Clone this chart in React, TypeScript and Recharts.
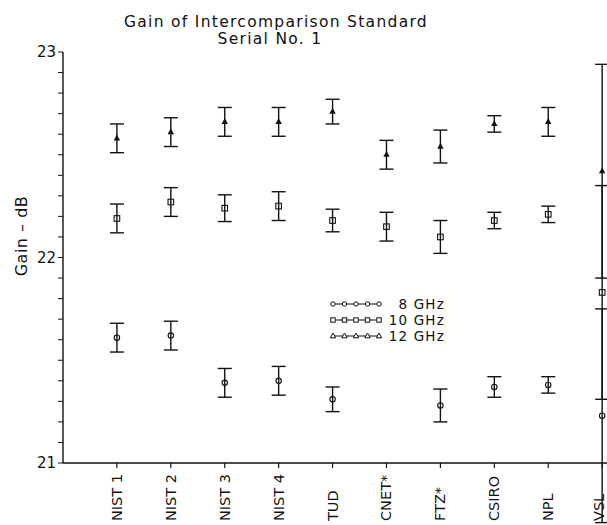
import React from 'react';
import { ScatterChart, Scatter, XAxis, YAxis, ErrorBar, Legend } from 'recharts';

const categories = ['NIST 1', 'NIST 2', 'NIST 3', 'NIST 4', 'TUD', 'CNET*', 'FTZ*', 'CSIRO', 'NPL', 'VSL'];

const gain8 = [21.61, 21.62, 21.39, 21.40, 21.31, null, 21.28, 21.37, 21.38, 21.23];
const err8 = [0.07, 0.07, 0.07, 0.07, 0.06, null, 0.08, 0.05, 0.04, 0.52];

const gain10 = [22.19, 22.27, 22.24, 22.25, 22.18, 22.15, 22.10, 22.18, 22.21, 21.83];
const err10 = [0.07, 0.07, 0.065, 0.07, 0.055, 0.07, 0.08, 0.04, 0.04, 0.52];

const gain12 = [22.58, 22.61, 22.66, 22.66, 22.71, 22.50, 22.54, 22.65, 22.66, 22.42];
const err12 = [0.07, 0.07, 0.07, 0.07, 0.06, 0.07, 0.08, 0.04, 0.07, 0.52];

const seriesNames = ['8 GHz', '10 GHz', '12 GHz'];
const xTicks = [1, 2, 3, 4, 5, 6, 7, 8, 9, 10];
const yTicks = [21, 21.1, 21.2, 21.3, 21.4, 21.5, 21.6, 21.7, 21.8, 21.9, 22, 22.1, 22.2, 22.3, 22.4, 22.5, 22.6, 22.7, 22.8, 22.9, 23];
const yLabelTicks = [21, 22, 23];
const titleLines = ['Gain of Intercomparison Standard', 'Serial No. 1'];
const yAxisTitle = 'Gain  \u2013  dB';

const FONT = "'DejaVu Sans', sans-serif";
const INK = '#111';

type Pt = { x: number; y: number; err: number; name: string };

function build(g: (number | null)[], e: (number | null)[]): Pt[] {
  const out: Pt[] = [];
  categories.forEach((c, i) => {
    const v = g[i];
    const er = e[i];
    if (v !== null && er !== null) out.push({ x: i + 1, y: v, err: er, name: c });
  });
  return out;
}

const data8 = build(gain8, err8);
const data10 = build(gain10, err10);
const data12 = build(gain12, err12);

const CircleMark = (p: any) => (
  <circle cx={p.cx} cy={p.cy} r={2.7} fill="none" stroke={INK} strokeWidth={1.1} />
);
const SquareMark = (p: any) => (
  <rect x={p.cx - 2.8} y={p.cy - 2.8} width={5.6} height={5.6} fill="none" stroke={INK} strokeWidth={1.1} />
);
const TriangleMark = (p: any) => (
  <path d={`M${p.cx},${p.cy - 3.8}L${p.cx + 3.2},${p.cy + 2.1}L${p.cx - 3.2},${p.cy + 2.1}Z`} fill={INK} />
);

const YTick = (props: any) => {
  const { x, y, payload } = props;
  if (!yLabelTicks.includes(payload.value)) return <g />;
  return (
    <text x={x} y={y} textAnchor="end" dominantBaseline="central" fontFamily={FONT} fontSize={15} fill={INK}>
      {payload.value}
    </text>
  );
};

const XTick = (props: any) => {
  const { x, payload } = props;
  const label = categories[payload.value - 1];
  const by = 521;
  const tx = Math.min(x, 599);
  return (
    <text
      x={tx}
      y={by}
      transform={`rotate(-90 ${tx} ${by})`}
      textAnchor="start"
      dominantBaseline="central"
      fontFamily={FONT}
      fontSize={14.5}
      fill={INK}
    >
      {label}
    </text>
  );
};

const legendMarks = ['circle', 'square', 'triangle'];

const LegendContent = () => (
  <svg width={125} height={56} style={{ display: 'block', overflow: 'visible' }}>
    {seriesNames.map((name, i) => {
      const cy = 10 + i * 16;
      const xs = [3, 14.5, 26, 37.5, 49];
      return (
        <g key={name}>
          <line x1={3} y1={cy} x2={49} y2={cy} stroke={INK} strokeWidth={1} />
          {xs.map((mx) =>
            legendMarks[i] === 'circle' ? (
              <circle key={mx} cx={mx} cy={cy} r={2.2} fill="#fff" stroke={INK} strokeWidth={1} />
            ) : legendMarks[i] === 'square' ? (
              <rect key={mx} x={mx - 2.2} y={cy - 2.2} width={4.4} height={4.4} fill="#fff" stroke={INK} strokeWidth={1} />
            ) : (
              <path key={mx} d={`M${mx},${cy - 3}L${mx + 2.7},${cy + 1.8}L${mx - 2.7},${cy + 1.8}Z`} fill="#fff" stroke={INK} strokeWidth={1} />
            )
          )}
          <text x={115} y={cy} textAnchor="end" dominantBaseline="central" fontFamily={FONT} fontSize={13.5} letterSpacing={1.2} fill={INK}>
            {name}
          </text>
        </g>
      );
    })}
  </svg>
);

export default function App() {
  return (
    <div style={{ position: 'absolute', left: 0, top: 0, width: 607, height: 525, background: '#fff' }}>
      <ScatterChart width={607} height={525} margin={{ top: 52, right: 0, bottom: 0, left: 0 }}>
        <XAxis
          type="number"
          dataKey="x"
          domain={[0, 10.09]}
          allowDataOverflow
          ticks={xTicks}
          interval={0}
          height={62}
          tickSize={5}
          tick={<XTick />}
          axisLine={{ stroke: INK, strokeWidth: 1.4 }}
          tickLine={{ stroke: INK, strokeWidth: 1.2 }}
        />
        <YAxis
          type="number"
          dataKey="y"
          domain={[21, 23]}
          allowDataOverflow
          ticks={yTicks}
          interval={0}
          width={63}
          tickSize={5}
          tick={<YTick />}
          axisLine={{ stroke: INK, strokeWidth: 1.4 }}
          tickLine={{ stroke: INK, strokeWidth: 1 }}
        />
        <Legend
          layout="vertical"
          align="center"
          verticalAlign="middle"
          content={<LegendContent />}
          wrapperStyle={{ position: 'absolute', left: 330, top: 294, width: 125, height: 56 }}
        />
        <Scatter name={seriesNames[0]} data={data8} shape={CircleMark} isAnimationActive={false}>
          <ErrorBar dataKey="err" direction="y" width={7} stroke={INK} strokeWidth={1.4} isAnimationActive={false} />
        </Scatter>
        <Scatter name={seriesNames[1]} data={data10} shape={SquareMark} isAnimationActive={false}>
          <ErrorBar dataKey="err" direction="y" width={7} stroke={INK} strokeWidth={1.4} isAnimationActive={false} />
        </Scatter>
        <Scatter name={seriesNames[2]} data={data12} shape={TriangleMark} isAnimationActive={false}>
          <ErrorBar dataKey="err" direction="y" width={7} stroke={INK} strokeWidth={1.4} isAnimationActive={false} />
        </Scatter>
        <text x={276} y={27} textAnchor="middle" fontFamily={FONT} fontSize={15.5} letterSpacing={1.3} fill={INK}>
          {titleLines[0]}
        </text>
        <text x={270} y={44} textAnchor="middle" fontFamily={FONT} fontSize={15.5} letterSpacing={1.3} fill={INK}>
          {titleLines[1]}
        </text>
        <text
          x={21}
          y={236}
          transform="rotate(-90 21 236)"
          textAnchor="middle"
          dominantBaseline="central"
          fontFamily={FONT}
          fontSize={16}
          letterSpacing={0.5}
          fill={INK}
        >
          {yAxisTitle}
        </text>
      </ScatterChart>
    </div>
  );
}
